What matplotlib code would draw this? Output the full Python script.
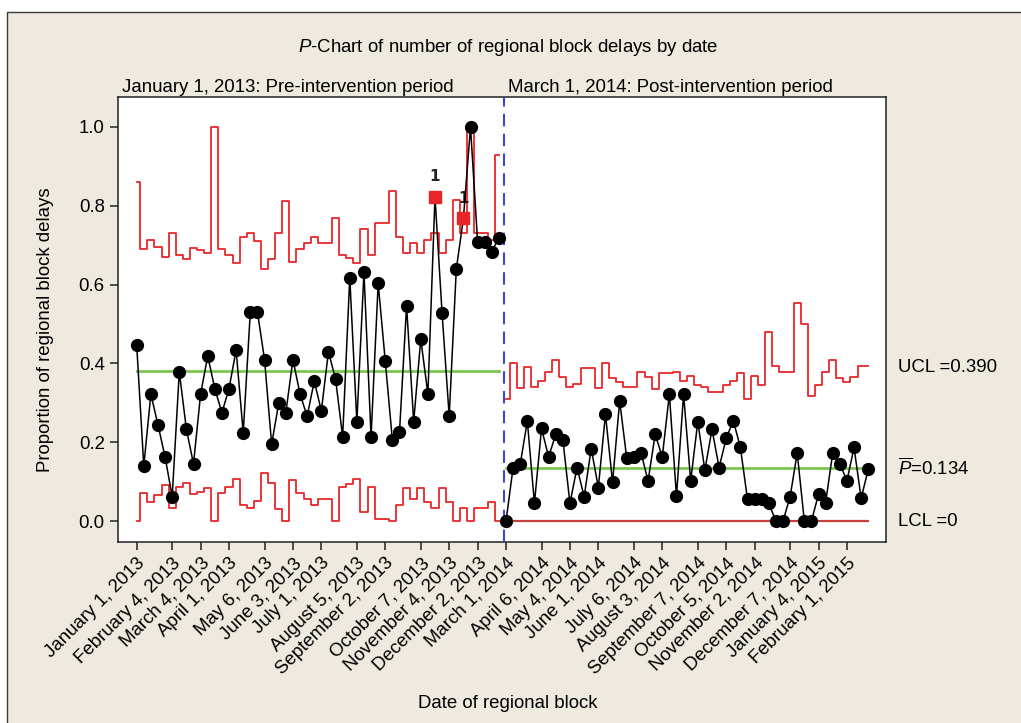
import matplotlib
matplotlib.use("Agg")
import matplotlib.pyplot as plt
from matplotlib.patches import Rectangle
import numpy as np

plt.rcParams['font.family'] = ['Liberation Sans', 'DejaVu Sans']
plt.rcParams['mathtext.fontset'] = 'custom'
plt.rcParams['mathtext.rm'] = 'Liberation Sans'
plt.rcParams['mathtext.it'] = 'Liberation Sans:italic'

# ---- data ----
p_pre = [0.447, 0.140, 0.322, 0.244, 0.163, 0.062, 0.379, 0.233, 0.145, 0.322,
         0.419, 0.336, 0.275, 0.336, 0.434, 0.224, 0.531, 0.531, 0.410, 0.195,
         0.299, 0.275, 0.410, 0.322, 0.266, 0.355, 0.280, 0.430, 0.360, 0.214,
         0.618, 0.252, 0.631, 0.214, 0.603, 0.406, 0.206, 0.225, 0.546, 0.252,
         0.462, 0.322, 0.823, 0.527, 0.266, 0.639, 0.768, 1.000, 0.709, 0.709,
         0.684, 0.719]
p_post = [0.000, 0.136, 0.144, 0.254, 0.045, 0.235, 0.163, 0.220, 0.207, 0.045,
          0.136, 0.062, 0.184, 0.085, 0.271, 0.098, 0.305, 0.159, 0.163, 0.174,
          0.102, 0.220, 0.163, 0.322, 0.063, 0.322, 0.102, 0.252, 0.129, 0.233,
          0.136, 0.210, 0.255, 0.187, 0.055, 0.055, 0.055, 0.045, 0.000, 0.000,
          0.062, 0.173, 0.000, 0.000, 0.068, 0.047, 0.173, 0.146, 0.102, 0.187,
          0.058, 0.131]
ucl_pre = [0.861, 0.690, 0.713, 0.696, 0.671, 0.730, 0.675, 0.665, 0.694, 0.688,
           0.679, 1.000, 0.690, 0.675, 0.654, 0.722, 0.730, 0.711, 0.640, 0.665,
           0.732, 0.812, 0.658, 0.690, 0.705, 0.722, 0.705, 0.705, 0.768, 0.675,
           0.667, 0.654, 0.740, 0.675, 0.756, 0.756, 0.838, 0.722, 0.679, 0.705,
           0.679, 0.713, 0.730, 0.679, 0.713, 0.815, 0.730, 1.000, 0.730, 0.730,
           0.713, 0.929]
lcl_pre = [0.000, 0.072, 0.049, 0.066, 0.091, 0.032, 0.087, 0.097, 0.068, 0.074,
           0.083, 0.000, 0.072, 0.087, 0.108, 0.040, 0.032, 0.051, 0.122, 0.097,
           0.030, 0.000, 0.104, 0.072, 0.057, 0.040, 0.057, 0.057, 0.000, 0.087,
           0.095, 0.108, 0.022, 0.087, 0.006, 0.006, 0.000, 0.040, 0.083, 0.057,
           0.083, 0.049, 0.032, 0.083, 0.049, 0.000, 0.032, 0.000, 0.032, 0.032,
           0.049, 0.000]
ucl_post = [0.310, 0.402, 0.337, 0.392, 0.341, 0.356, 0.379, 0.410, 0.365, 0.341,
            0.349, 0.388, 0.388, 0.337, 0.402, 0.362, 0.354, 0.339, 0.339, 0.379,
            0.365, 0.334, 0.375, 0.375, 0.379, 0.356, 0.367, 0.345, 0.339, 0.328,
            0.328, 0.345, 0.356, 0.375, 0.310, 0.367, 0.345, 0.480, 0.393, 0.379,
            0.379, 0.554, 0.500, 0.317, 0.345, 0.379, 0.410, 0.362, 0.354, 0.365,
            0.393, 0.393]
lcl_post_value = 0.0
pbar_pre = 0.381
pbar_post = 0.134
ucl_label = 0.390
flagged_idx = [42, 46]

tick_idx = [0, 5, 9, 13, 18, 22, 26, 31, 35, 40, 44, 48, 52,
            57, 61, 65, 70, 74, 79, 83, 87, 92, 96, 100]
tick_labels = ["January 1, 2013", "February 4, 2013", "March 4, 2013",
               "April 1, 2013", "May 6, 2013", "June 3, 2013", "July 1, 2013",
               "August 5, 2013", "September 2, 2013", "October 7, 2013",
               "November 4, 2013", "December 2, 2013", "March 1, 2014",
               "April 6, 2014", "May 4, 2014", "June 1, 2014", "July 6, 2014",
               "August 3, 2014", "September 7, 2014", "October 5, 2014",
               "November 2, 2014", "December 7, 2014", "January 4, 2015",
               "February 1, 2015"]

# ---- figure ----
W, H = 1021, 723
FS = 13.4
fig = plt.figure(figsize=(W / 100, H / 100), dpi=100, facecolor='white')
bg = Rectangle((7 / W, -0.1), 1.2, (1 - 12 / H) + 0.1,
               transform=fig.transFigure, facecolor='#EEEAE0',
               edgecolor='#3a3a3a', lw=1.0, zorder=-10)
fig.patches.append(bg)

ax = fig.add_axes([118 / W, 1 - 542 / H, (886 - 118) / W, (542 - 97) / H])
ax.set_zorder(1)
ax.set_facecolor('white')

x_pre = np.arange(len(p_pre))
x_post = np.arange(len(p_pre), len(p_pre) + len(p_post))

red = '#E8262A'
green = '#7CC650'

ax.step(x_pre, ucl_pre, where='mid', color=red, lw=1.3, zorder=2)
ax.step(x_pre, lcl_pre, where='mid', color=red, lw=1.3, zorder=2)
ax.step(x_post, ucl_post, where='mid', color=red, lw=1.3, zorder=2)
ax.plot([x_post[0], x_post[-1]], [lcl_post_value] * 2, color='#C8403C', lw=1.6, zorder=2)
ax.plot([x_pre[0], x_pre[-1]], [pbar_pre] * 2, color=green, lw=2.0, zorder=2)
ax.plot([x_post[0], x_post[-1]], [pbar_post] * 2, color=green, lw=2.0, zorder=2)

ax.plot(x_pre, p_pre, color='black', lw=1.1, marker='o', ms=8.5, zorder=4)
ax.plot(x_post, p_post, color='black', lw=1.1, marker='o', ms=8.5, zorder=4)

for i in flagged_idx:
    ax.plot([x_pre[i]], [p_pre[i]], marker='s', ms=8.5, color='#E8262A',
            mec='#E8262A', zorder=5)
    ax.annotate('1', (x_pre[i], p_pre[i]), xytext=(0, 9), textcoords='offset points',
                ha='center', va='bottom', fontsize=11, fontweight='bold',
                family=['DejaVu Sans'], color='#222222')

ax.axvline(51.7, color='#3F48CC', lw=1.5, ls=(0, (6, 3.5)), zorder=3)

ax.set_xlim(-2.63, 105.5)
ax.set_ylim(-0.053, 1.076)
ax.set_yticks([0.0, 0.2, 0.4, 0.6, 0.8, 1.0])
ax.set_yticklabels(['0.0', '0.2', '0.4', '0.6', '0.8', '1.0'], fontsize=FS)
ax.set_xticks(tick_idx)
ax.set_xticklabels(tick_labels, rotation=45, ha='right', va='top',
                   rotation_mode='anchor', fontsize=FS)
ax.tick_params(axis='both', direction='out', length=6, width=1.1, color='#222222')
ax.tick_params(axis='x', pad=3)
for s in ax.spines.values():
    s.set_color('#222222')
    s.set_linewidth(1.1)

# right-side labels
ax.annotate('UCL =0.390', (1.016, ucl_label), xycoords=('axes fraction', 'data'),
            ha='left', va='center', fontsize=FS, annotation_clip=False)
ax.annotate(r'$\overline{P}$=0.134', (1.016, pbar_post), xycoords=('axes fraction', 'data'),
            ha='left', va='center', fontsize=FS, annotation_clip=False)
ax.annotate('LCL =0', (1.016, lcl_post_value), xycoords=('axes fraction', 'data'),
            ha='left', va='center', fontsize=FS, annotation_clip=False)

# titles & labels
fig.text(508 / W, 1 - 47 / H, r'$P$-Chart of number of regional block delays by date',
         ha='center', va='center', fontsize=FS)
fig.text(122 / W, 1 - 88 / H, 'January 1, 2013: Pre-intervention period',
         ha='left', va='center', fontsize=FS)
fig.text(508 / W, 1 - 88 / H, 'March 1, 2014: Post-intervention period',
         ha='left', va='center', fontsize=FS)
fig.text(45 / W, 1 - 330 / H, 'Proportion of regional block delays', rotation=90,
         ha='center', va='center', fontsize=FS)
fig.text(508 / W, 1 - 704 / H, 'Date of regional block', ha='center', va='center',
         fontsize=FS)

fig.savefig('out.png', dpi=100, facecolor='white')
